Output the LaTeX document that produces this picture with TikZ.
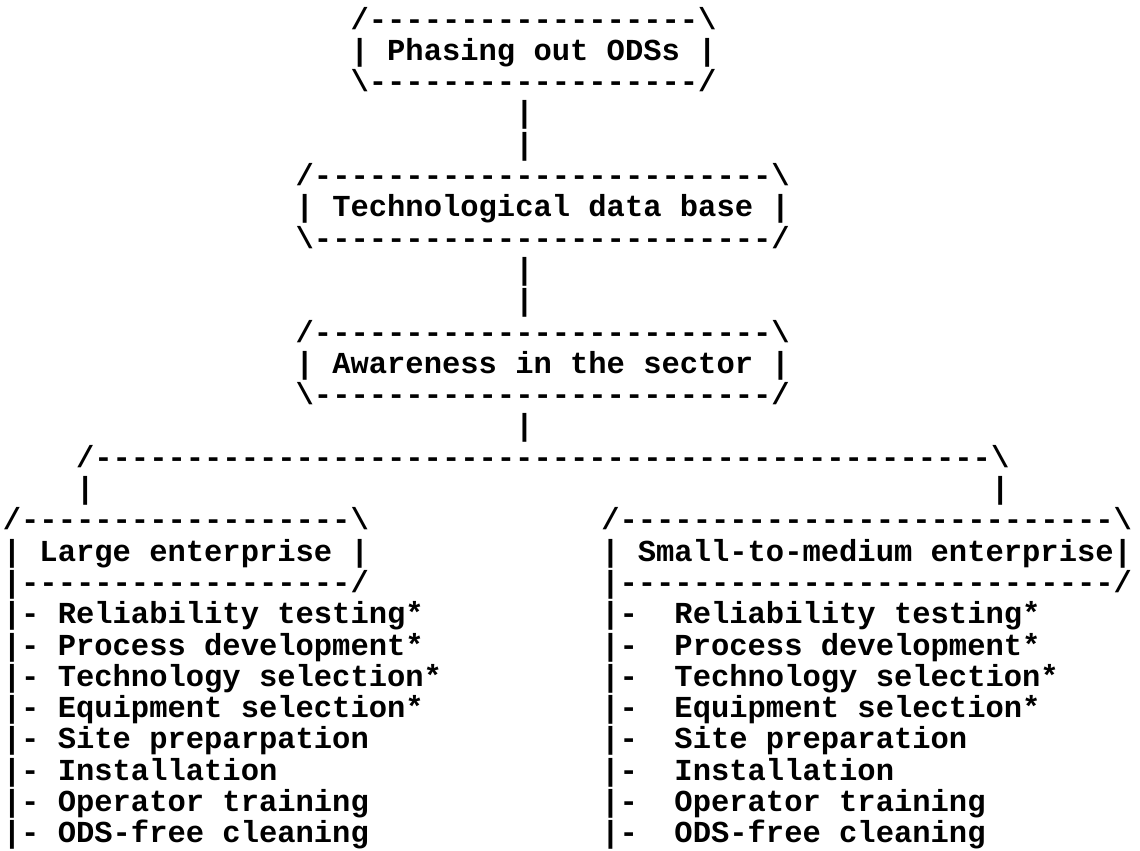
\documentclass[tikz,border=0pt]{standalone}
\usepackage{fontspec}
\setmonofont{Liberation Mono}
\tikzset{
  ascii/.style={anchor=base west,inner sep=0pt,outer sep=0pt,
    font=\ttfamily\bfseries\fontsize{30.5pt}{31.3pt}\selectfont},
}
\newcommand{\bs}{\textbackslash}
\begin{document}
\begin{tikzpicture}[x=18.3pt,y=-31.3pt]
	\fill[white] (-0.156,-0.927) rectangle (62.14,26.23);
	\useasboundingbox (-0.156,-0.927) rectangle (62.14,26.23);
	% goal
	\node[ascii] (phasingTop) at (19,0) {/------------------\bs};
	\node[ascii] (phasing) at (19,1) {|~Phasing~out~ODSs~|};
	\node[ascii] (phasingBot) at (19,2) {\bs------------------/};
	\node[ascii] (linkA) at (28,3) {|};
	\node[ascii] (linkB) at (28,4) {|};
	% data base
	\node[ascii] (databaseTop) at (16,5) {/-------------------------\bs};
	\node[ascii] (database) at (16,6) {|~Technological~data~base~|};
	\node[ascii] (databaseBot) at (16,7) {\bs-------------------------/};
	\node[ascii] (linkC) at (28,8) {|};
	\node[ascii] (linkD) at (28,9) {|};
	% awareness
	\node[ascii] (awarenessTop) at (16,10) {/-------------------------\bs};
	\node[ascii] (awareness) at (16,11) {|~Awareness~in~the~sector~|};
	\node[ascii] (awarenessBot) at (16,12) {\bs-------------------------/};
	\node[ascii] (linkE) at (28,13) {|};
	% split
	\node[ascii] (split) at (4,14) {/-------------------------------------------------\bs};
	\node[ascii] (splitL) at (4,15) {|};
	\node[ascii] (splitR) at (54,15) {|};
	% large enterprise
	\node[ascii] (largeTop) at (0,16) {/------------------\bs};
	\node[ascii] (large) at (0,17) {|~Large~enterprise~|};
	\node[ascii] (largeBot) at (0,18) {|------------------/};
	\foreach \txt [count=\i from 19] in {Reliability testing*,Process development*,
	  Technology selection*,Equipment selection*,Site preparpation,Installation,
	  Operator training,ODS-free cleaning}
	  \node[ascii] (large\i) at (0,\i) {|-~\txt};
	% small-to-medium enterprise
	\node[ascii] (smallTop) at (32.7,16) {/---------------------------\bs};
	\node[ascii] (small) at (32.7,17) {|~Small-to-medium~enterprise|};
	\node[ascii] (smallBot) at (32.7,18) {|---------------------------/};
	\foreach \txt [count=\i from 19] in {Reliability testing*,Process development*,
	  Technology selection*,Equipment selection*,Site preparation,Installation,
	  Operator training,ODS-free cleaning}
	  \node[ascii] (small\i) at (32.7,\i) {|-~~\txt};
\end{tikzpicture}
\end{document}
